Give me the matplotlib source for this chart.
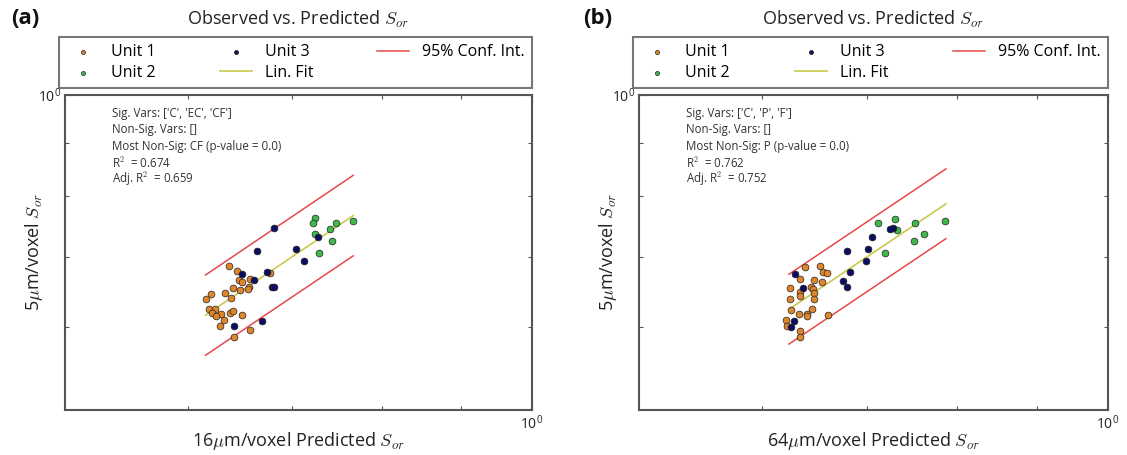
import matplotlib
matplotlib.use("Agg")
import matplotlib.pyplot as plt
from matplotlib.ticker import LogLocator, NullFormatter, FixedLocator

plt.rcParams["font.family"] = ["Open Sans", "DejaVu Sans"]
plt.rcParams["mathtext.fontset"] = "cm"

# ---- panel (a): 16 um/voxel predictions vs 5 um/voxel observations ----
a_unit1_pred = [0.638, 0.645, 0.647, 0.650, 0.658, 0.642, 0.657, 0.656, 0.648,
                0.634, 0.621, 0.616, 0.640, 0.619, 0.625, 0.622, 0.630, 0.639,
                0.642, 0.650, 0.633, 0.629, 0.658, 0.643, 0.678, 0.626]
a_unit1_obs = [0.686, 0.679, 0.666, 0.662, 0.667, 0.654, 0.656, 0.652, 0.651,
               0.647, 0.646, 0.639, 0.640, 0.625, 0.624, 0.619, 0.617, 0.619,
               0.622, 0.616, 0.610, 0.602, 0.596, 0.587, 0.676, 0.615]
a_unit2_pred = [0.725, 0.722, 0.748, 0.767, 0.725, 0.741, 0.743, 0.729]
a_unit2_obs = [0.763, 0.755, 0.755, 0.758, 0.737, 0.744, 0.726, 0.707]
a_unit3_pred = [0.682, 0.665, 0.705, 0.713, 0.650, 0.675, 0.662, 0.680,
                0.682, 0.728, 0.643, 0.670]
a_unit3_obs = [0.746, 0.710, 0.712, 0.694, 0.674, 0.678, 0.665, 0.656,
               0.655, 0.731, 0.601, 0.608]
a_fit_x = [0.616, 0.767]
a_fit_y = [0.616, 0.767]
a_ci_upper = [0.673, 0.838]
a_ci_lower = [0.564, 0.702]
a_stats = ["Sig. Vars: ['C', 'EC', 'CF']",
           "Non-Sig. Vars: []",
           "Most Non-Sig: CF (p-value = 0.0)",
           "R$^2$  = 0.674",
           "Adj. R$^2$  = 0.659"]

# ---- panel (b): 64 um/voxel predictions vs 5 um/voxel observations ----
b_unit1_pred = [0.639, 0.653, 0.656, 0.660, 0.634, 0.648, 0.655, 0.625, 0.645,
                0.647, 0.634, 0.648, 0.634, 0.625, 0.648, 0.646, 0.626, 0.633,
                0.641, 0.641, 0.621, 0.622, 0.634, 0.661, 0.634]
b_unit1_obs = [0.685, 0.686, 0.678, 0.676, 0.667, 0.666, 0.662, 0.654, 0.656,
               0.652, 0.648, 0.647, 0.643, 0.639, 0.639, 0.625, 0.623, 0.618,
               0.618, 0.615, 0.610, 0.602, 0.595, 0.616, 0.587]
b_unit2_pred = [0.712, 0.730, 0.752, 0.786, 0.732, 0.762, 0.751, 0.719]
b_unit2_obs = [0.755, 0.762, 0.755, 0.758, 0.743, 0.737, 0.726, 0.706]
b_unit3_pred = [0.630, 0.637, 0.680, 0.701, 0.699, 0.706, 0.683, 0.676,
                0.680, 0.728, 0.725, 0.629, 0.626]
b_unit3_obs = [0.674, 0.654, 0.710, 0.712, 0.694, 0.731, 0.678, 0.664,
               0.656, 0.746, 0.744, 0.608, 0.600]
b_fit_x = [0.624, 0.787]
b_fit_y = [0.624, 0.787]
b_ci_upper = [0.674, 0.850]
b_ci_lower = [0.578, 0.729]
b_stats = ["Sig. Vars: ['C', 'P', 'F']",
           "Non-Sig. Vars: []",
           "Most Non-Sig: P (p-value = 0.0)",
           "R$^2$  = 0.762",
           "Adj. R$^2$  = 0.752"]

panel_tags = ["(a)", "(b)"]
x_labels = [r"16$\mu$m/voxel Predicted $S_{or}$", r"64$\mu$m/voxel Predicted $S_{or}$"]
y_label = r"5$\mu$m/voxel $S_{or}$"
title = r"Observed vs. Predicted $S_{or}$"
axis_limits = (0.5, 1.0)

C_UNIT1 = "#e0862a"
C_UNIT2 = "#3fb84a"
C_UNIT3 = "#0c0c62"
C_FIT = "#c9c94c"
C_CI = "#e84848"
FRAME = "#555555"

fig = plt.figure(figsize=(11.27, 4.55), dpi=100)
W, H = 1127.0, 455.0
boxes = [(65, 532), (639, 1108)]
top_px, bot_px = 95, 410

panels = [
    (a_unit1_pred, a_unit1_obs, a_unit2_pred, a_unit2_obs, a_unit3_pred, a_unit3_obs,
     a_fit_x, a_fit_y, a_ci_upper, a_ci_lower, a_stats),
    (b_unit1_pred, b_unit1_obs, b_unit2_pred, b_unit2_obs, b_unit3_pred, b_unit3_obs,
     b_fit_x, b_fit_y, b_ci_upper, b_ci_lower, b_stats),
]

for i, (box, data) in enumerate(zip(boxes, panels)):
    (u1x, u1y, u2x, u2y, u3x, u3y, fx, fy, cu, cl, stats) = data
    l, r = box
    ax = fig.add_axes([l / W, 1 - bot_px / H, (r - l) / W, (bot_px - top_px) / H])
    ax.set_xscale("log")
    ax.set_yscale("log")
    ax.set_xlim(*axis_limits)
    ax.set_ylim(*axis_limits)

    kw = dict(s=24, edgecolors="#222222", linewidths=0.5, zorder=3)
    h1 = ax.scatter(u1x, u1y, c=C_UNIT1, label="Unit 1", **kw)
    h2 = ax.scatter(u2x, u2y, c=C_UNIT2, label="Unit 2", **kw)
    h3 = ax.scatter(u3x, u3y, c=C_UNIT3, label="Unit 3", **kw)
    hf, = ax.plot(fx, fy, color=C_FIT, lw=1.2, label="Lin. Fit", zorder=2)
    hc, = ax.plot(fx, cu, color=C_CI, lw=1.1, label="95% Conf. Int.", zorder=2)
    ax.plot(fx, cl, color=C_CI, lw=1.1, zorder=2)

    for s in ax.spines.values():
        s.set_color(FRAME)
        s.set_linewidth(1.5)

    ax.xaxis.set_major_locator(FixedLocator([1.0]))
    ax.yaxis.set_major_locator(FixedLocator([1.0]))
    ax.xaxis.set_minor_locator(LogLocator(base=10, subs=(0.6, 0.7, 0.8, 0.9)))
    ax.yaxis.set_minor_locator(LogLocator(base=10, subs=(0.6, 0.7, 0.8, 0.9)))
    ax.xaxis.set_minor_formatter(NullFormatter())
    ax.yaxis.set_minor_formatter(NullFormatter())
    ax.tick_params(which="both", direction="in", top=True, right=True,
                   colors=FRAME, labelcolor="#222222", labelsize=10)
    ax.tick_params(which="major", length=6, width=0.8)
    ax.tick_params(which="minor", length=3, width=0.8)
    ax.tick_params(axis="x", pad=3)
    ax.tick_params(axis="y", pad=3)

    ax.set_xlabel(x_labels[i], fontsize=13, color="#222222")
    ax.set_ylabel(y_label, fontsize=13, color="#222222")
    ax.xaxis.set_label_coords(0.5, -0.063)
    ax.yaxis.set_label_coords(-0.043, 0.5)

    # regression summary
    for k, line in enumerate(stats):
        ax.text(0.10, 0.942 - k * 0.0525, line, transform=ax.transAxes,
                fontsize=8.3, color="#333333", va="center", ha="left")

    leg = ax.legend(handles=[h1, h2, h3, hf, hc], ncol=3, loc="lower left",
                    bbox_to_anchor=(-0.012, 1.022, 1.012, 0.165), mode="expand",
                    borderaxespad=0, fontsize=11.5, fancybox=False,
                    markerscale=0.6, scatterpoints=1, handlelength=2.0,
                    handletextpad=0.8, labelspacing=0.3, borderpad=0.45)
    leg.get_frame().set_edgecolor(FRAME)
    leg.get_frame().set_linewidth(1.5)

    ax.text(0.5, (bot_px - 19) / (bot_px - top_px), title, transform=ax.transAxes,
            ha="center", va="center", fontsize=13, color="#222222")

    fig.text((25 + 573 * i) / W, 1 - 19 / H, panel_tags[i], fontsize=16,
             fontweight="bold", ha="center", va="center", color="#111111")

fig.savefig("out.png", dpi=100)
